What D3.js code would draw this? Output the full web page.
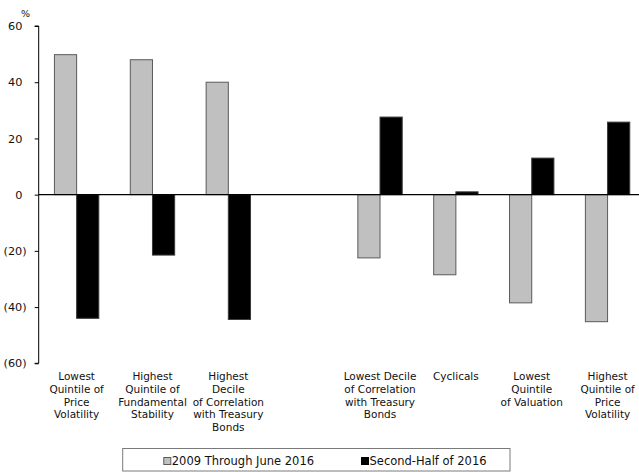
<!DOCTYPE html>
<html>
<head>
<meta charset="utf-8">
<script src="https://cdn.jsdelivr.net/npm/d3@7"></script>
<style>
  html, body { margin: 0; padding: 0; background: #fff; }
  svg { display: block; }
  text { font-family: "DejaVu Sans", Verdana, sans-serif; fill: #111; }
</style>
</head>
<body>
<svg id="chart" width="639" height="472"></svg>
<script>
// Category labels (line breaks marked with "\n"); the blank entry separates the two groups.
const categories = [
  "Lowest\nQuintile of\nPrice\nVolatility",
  "Highest\nQuintile of\nFundamental\nStability",
  "Highest\nDecile\nof Correlation\nwith Treasury\nBonds",
  "",
  "Lowest Decile\nof Correlation\nwith Treasury\nBonds",
  "Cyclicals",
  "Lowest\nQuintile\nof Valuation",
  "Highest\nQuintile of\nPrice\nVolatility"
];
const seriesNames = ["2009 Through June 2016", "Second-Half of 2016"];
const seriesColors = ["#c0c0c0", "#000000"];
const seriesStrokes = ["#5a5a5a", "#3a3a3a"];
// Percent change per category; null where a category carries no bar.
const through2016 = [49.8, 48.0, 40.0, null, -22.5, -28.5, -38.5, -45.2];
const secondHalf2016 = [-44.0, -21.5, -44.4, null, 27.6, 1.0, 13.0, 25.8];
const yTicks = [-60, -40, -20, 0, 20, 40, 60];

const svg = d3.select("#chart");
const plotLeft = 38.7, plotTop = 26, plotBottom = 363.3;

const keys = categories.map((c, i) => "c" + i);
const x = d3.scaleBand().domain(keys)
  .range([plotLeft, plotLeft + 8 * 75.85])
  .paddingInner(0.415).paddingOuter(0.2075);
const xs = d3.scaleBand().domain([0, 1]).range([0, x.bandwidth()]);
const y = d3.scaleLinear().domain([-60, 60]).range([plotBottom, plotTop]);

const series = [through2016, secondHalf2016];

// Bars
series.forEach((vals, s) => {
  svg.append("g").selectAll("rect")
    .data(vals.map((v, i) => ({ v, k: keys[i] })).filter(d => d.v !== null))
    .join("rect")
    .attr("x", d => x(d.k) + xs(s))
    .attr("width", xs.bandwidth())
    .attr("y", d => y(Math.max(0, d.v)))
    .attr("height", d => Math.abs(y(d.v) - y(0)))
    .attr("fill", seriesColors[s])
    .attr("stroke", seriesStrokes[s])
    .attr("stroke-width", 1);
});

// Y axis with accounting-style negative labels
const yAxis = d3.axisLeft(y).tickValues(yTicks).tickSize(4).tickPadding(0)
  .tickFormat(d => d < 0 ? `(${-d})` : `${d}`);
const gy = svg.append("g").attr("transform", `translate(${plotLeft},0)`).call(yAxis);
gy.select(".domain").attr("stroke", "#000").attr("d", `M-4,${plotTop}H0V${plotBottom}H-4`);
gy.selectAll(".tick line").attr("stroke", "#000");
gy.selectAll(".tick text")
  .attr("x", d => d < 0 ? -12 : -16.3)
  .style("font-size", "11.3px")
  .style("font-family", "'DejaVu Sans', Verdana, sans-serif")
  .attr("fill", "#111");

svg.append("text").attr("x", 25.5).attr("y", 17).attr("text-anchor", "middle")
  .style("font-size", "9.5px").text("%");

// Zero line
svg.append("line")
  .attr("x1", plotLeft).attr("x2", 639)
  .attr("y1", y(0)).attr("y2", y(0))
  .attr("stroke", "#000").attr("stroke-width", 1.2);

// Category labels
const labels = svg.append("g").selectAll("text")
  .data(categories.map((c, i) => ({ c, k: keys[i] })))
  .join("text")
  .attr("text-anchor", "middle")
  .style("font-size", "10.5px")
  .attr("transform", d => `translate(${x(d.k) + x.bandwidth() / 2},380)`);
labels.selectAll("tspan")
  .data(d => d.c ? d.c.split("\n") : [])
  .join("tspan")
  .attr("x", 0)
  .attr("dy", (d, i) => i === 0 ? 0 : 12.8)
  .text(d => d);

// Legend
const legend = svg.append("g");
legend.append("rect")
  .attr("x", 122.7).attr("y", 448.5).attr("width", 387.3).attr("height", 22.5)
  .attr("fill", "#fff").attr("stroke", "#7a7a7a").attr("stroke-width", 1);
const legendX = [163.3, 361];
seriesNames.forEach((name, s) => {
  const g = legend.append("g").attr("transform", `translate(${legendX[s]},0)`);
  g.append("rect").attr("x", 0.5).attr("y", 457.5).attr("width", 7).attr("height", 7)
    .attr("fill", seriesColors[s]).attr("stroke", s === 0 ? "#5a5a5a" : "#000");
  g.append("text").attr("x", 8.5).attr("y", 465).style("font-size", "11.5px").text(name);
});
</script>
</body>
</html>
